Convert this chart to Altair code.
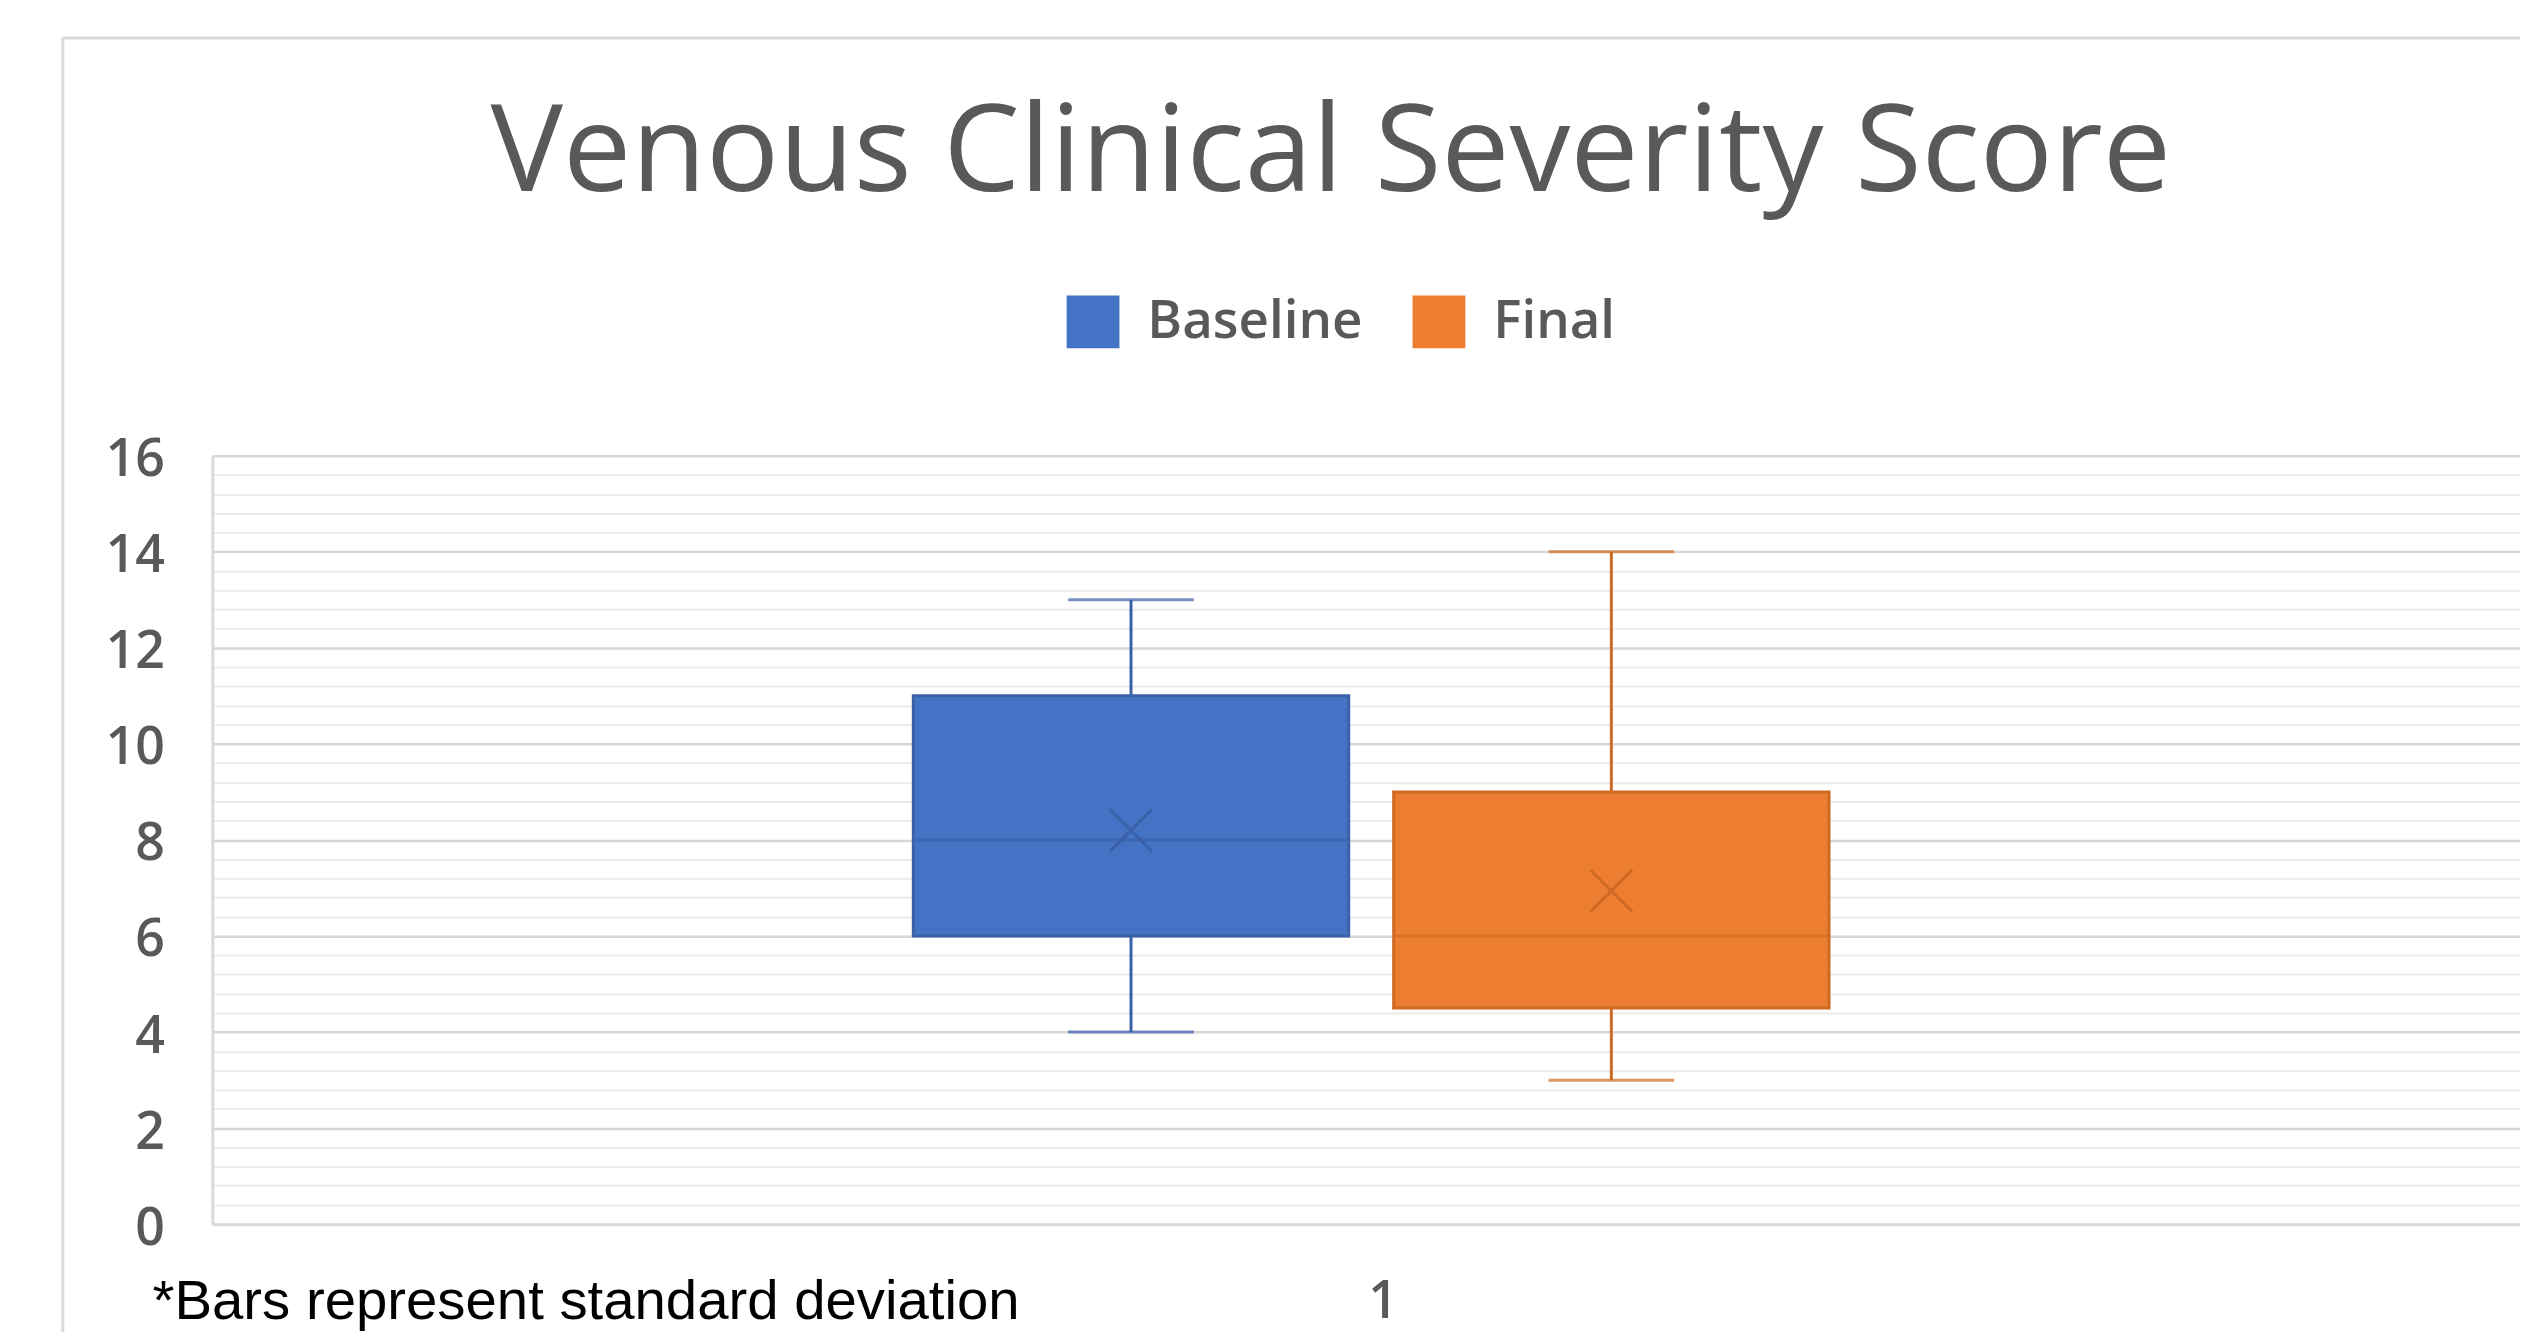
import altair as alt
import pandas as pd

# ---- data ----
series = ["Baseline", "Final"]
category = ["1", "1"]
mins = [4, 3]
q1s = [6, 4.5]
medians = [8, 6]
q3s = [11, 9]
maxs = [13, 14]
means = [8.2, 6.94]

fill_colors = ["#4472C4", "#ED7D31"]
dark_colors = ["#3A60A8", "#CF6A24"]

title_text = "Venous Clinical Severity Score"
footnote_text = "*Bars represent standard deviation"
y_tick_values = [round(k * 0.4, 1) for k in range(41)]

df = pd.DataFrame({
    "series": series,
    "cat": category,
    "min": mins,
    "q1": q1s,
    "median": medians,
    "q3": q3s,
    "max": maxs,
    "mean": means,
})

GRAY_TXT = "#595959"
FONT = "Open Sans"

y_scale = alt.Scale(domain=[0, 16], nice=False, zero=True)
x_scale = alt.Scale(paddingOuter=0.76, paddingInner=0, align=0.5036)
xo_scale = alt.Scale(paddingInner=0.0936, paddingOuter=0)

fill_scale = alt.Scale(domain=series, range=fill_colors)
dark_scale = alt.Scale(domain=series, range=dark_colors)

x_axis = alt.Axis(
    title=None, labelAngle=0, labelFont=FONT, labelFontSize=52, labelColor=GRAY_TXT,
    labelFontWeight=600,
    ticks=False, domain=True, domainColor="#d9d9d9", domainWidth=3,
    labelPadding=53, labelOffset=12, grid=False,
)
y_axis = alt.Axis(
    title=None, values=y_tick_values,
    labelExpr="datum.value % 2 == 0 ? '' + datum.value : ''",
    labelOverlap=False, labelFont=FONT, labelFontSize=52, labelColor=GRAY_TXT,
    labelFontWeight=600,
    labelPadding=48, labelOffset=4, ticks=False,
    domain=True, domainColor="#d9d9d9", domainWidth=3,
    grid=True,
    gridColor=alt.condition("datum.value % 2 == 0", alt.value("#d6d6d6"), alt.value("#ebebeb")),
    gridWidth=alt.condition("datum.value % 2 == 0", alt.value(2.5), alt.value(2)),
)

base = alt.Chart(df)


def X():
    return alt.X("cat:N", scale=x_scale, axis=x_axis)


def XO():
    return alt.XOffset("series:N", scale=xo_scale, sort=series)


def Y(field):
    return alt.Y(field, scale=y_scale, axis=y_axis)


boxes = base.mark_bar(strokeWidth=3).encode(
    x=X(), xOffset=XO(), y=Y("q1:Q"), y2="q3:Q",
    color=alt.Color("series:N", scale=fill_scale, sort=series, legend=alt.Legend(
        orient="none", legendX=857, legendY=-161, direction="horizontal", title=None,
        symbolType="square", symbolSize=2809, symbolStrokeWidth=0,
        labelFont=FONT, labelFontSize=53, labelFontWeight=600, labelColor=GRAY_TXT,
        labelOffset=28, columnPadding=50, padding=0, labelLimit=0,
    )),
    stroke=alt.Stroke("series:N", scale=dark_scale, legend=None),
)

whisker_lo = base.mark_rule(strokeWidth=3).encode(
    x=X(), xOffset=XO(), y=Y("min:Q"), y2="q1:Q",
    stroke=alt.Stroke("series:N", scale=dark_scale, legend=None),
)
whisker_hi = base.mark_rule(strokeWidth=3).encode(
    x=X(), xOffset=XO(), y=Y("q3:Q"), y2="max:Q",
    stroke=alt.Stroke("series:N", scale=dark_scale, legend=None),
)
cap_lo = base.mark_tick(size=126, thickness=3).encode(
    x=X(), xOffset=XO(), y=Y("min:Q"),
    fill=alt.Fill("series:N", scale=dark_scale, legend=None),
)
cap_hi = base.mark_tick(size=126, thickness=3).encode(
    x=X(), xOffset=XO(), y=Y("max:Q"),
    fill=alt.Fill("series:N", scale=dark_scale, legend=None),
)
median = base.mark_tick(size=436, thickness=3).encode(
    x=X(), xOffset=XO(), y=Y("median:Q"),
    fill=alt.Fill("series:N", scale=dark_scale, legend=None),
)
mean_pt = base.mark_point(
    shape="M-1,-1L1,1M-1,1L1,-1", size=1764, strokeWidth=3, filled=False, opacity=1
).encode(
    x=X(), xOffset=XO(), y=Y("mean:Q"),
    stroke=alt.Stroke("series:N", scale=dark_scale, legend=None),
)

one = pd.DataFrame({"a": [0]})
border_top = alt.Chart(one).mark_rule(color="#d9d9d9", strokeWidth=3).encode(
    x=alt.value(-150), x2=alt.value(2400), y=alt.value(-419)
)
border_left = alt.Chart(one).mark_rule(color="#d9d9d9", strokeWidth=3).encode(
    x=alt.value(-150), y=alt.value(-419), y2=alt.value(950)
)

title = alt.Chart(pd.DataFrame({"t": [title_text]})).mark_text(
    align="center", baseline="alphabetic", font=FONT, fontSize=122, color=GRAY_TXT
).encode(text="t:N", x=alt.value(1122), y=alt.value(-266))

footnote = alt.Chart(pd.DataFrame({"t": [footnote_text]})).mark_text(
    align="left", baseline="alphabetic", font="Liberation Sans", fontSize=56.5, color="black"
).encode(text="t:N", x=alt.value(-60), y=alt.value(866))

chart = alt.layer(
    border_top, border_left,
    boxes, whisker_lo, whisker_hi, cap_lo, cap_hi, median, mean_pt,
    title, footnote,
).properties(
    width=2315, height=771,
    autosize=alt.AutoSizeParams(type="none"),
    padding={"left": 205, "top": 447, "right": 0, "bottom": 106},
    background="white",
).configure_view(stroke=None)

chart.save("out.html", embed_options={"renderer": "svg", "actions": False})
